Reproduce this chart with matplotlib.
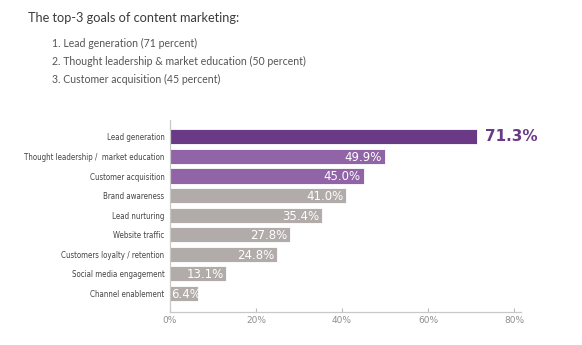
import matplotlib
matplotlib.use("Agg")
import matplotlib.pyplot as plt

categories = [
    "Lead generation",
    "Thought leadership /  market education",
    "Customer acquisition",
    "Brand awareness",
    "Lead nurturing",
    "Website traffic",
    "Customers loyalty / retention",
    "Social media engagement",
    "Channel enablement",
]
values = [71.3, 49.9, 45.0, 41.0, 35.4, 27.8, 24.8, 13.1, 6.4]
bar_colors = ["#6b3a87", "#9064a6", "#9064a6", "#b1aba9", "#b1aba9",
              "#b1aba9", "#b1aba9", "#b1aba9", "#b1aba9"]
xticks = [0, 20, 40, 60, 80]
xtick_labels = ["0%", "20%", "40%", "60%", "80%"]
title = "The top-3 goals of content marketing:"
top_goals = [
    "1. Lead generation (71 percent)",
    "2. Thought leadership & market education (50 percent)",
    "3. Customer acquisition (45 percent)",
]

W, H = 582, 345
fig = plt.figure(figsize=(W / 100, H / 100), dpi=100)
fig.patch.set_facecolor("white")

ax = fig.add_axes([170 / W, 1 - 312 / H, (521 - 170) / W, (312 - 120) / H])
ypos = list(range(len(categories)))
ax.barh(ypos, values, height=0.77, color=bar_colors, edgecolor="white", linewidth=0.6)
ax.set_xlim(0, 81.6)
ax.set_ylim(8.97, -0.87)

ax.set_yticks(ypos)
ax.set_yticklabels(categories, fontsize=5.7, color="#444444",
                   family="DejaVu Sans", fontstretch="condensed")
ax.tick_params(axis="y", length=0, pad=4)
ax.set_xticks(xticks)
ax.set_xticklabels(xtick_labels, fontsize=6.5, color="#8f8f8f", family="DejaVu Sans")
ax.tick_params(axis="x", direction="in", length=3, color="#bbbbbb", pad=3)

for s in ["top", "right"]:
    ax.spines[s].set_visible(False)
for s in ["left", "bottom"]:
    ax.spines[s].set_color("#c8c8c8")
    ax.spines[s].set_linewidth(0.9)

for i, v in enumerate(values):
    label = f"{v:.1f}%"
    if i == 0:
        ax.text(v + 2.0, i, label, ha="left", va="center",
                fontsize=11, fontweight="bold", color="#6b3a87", family="DejaVu Sans")
    elif v < 10:
        ax.text(0.2, i + 0.05, label, ha="left", va="center",
                fontsize=8.5, color="white", family="DejaVu Sans")
    else:
        ax.text(v - 0.6, i + 0.05, label, ha="right", va="center",
                fontsize=8.5, color="white", family="DejaVu Sans")

fig.text(28 / W, 1 - 18 / H, title, fontsize=9.2, color="#3c3c3c",
         family="Lato", va="center", ha="left")
for k, line in enumerate(top_goals):
    fig.text(52 / W, 1 - (43 + 18 * k) / H, line, fontsize=7.6, color="#555555",
             family="Lato", va="center", ha="left")

fig.savefig("out.png", dpi=100, facecolor="white")
